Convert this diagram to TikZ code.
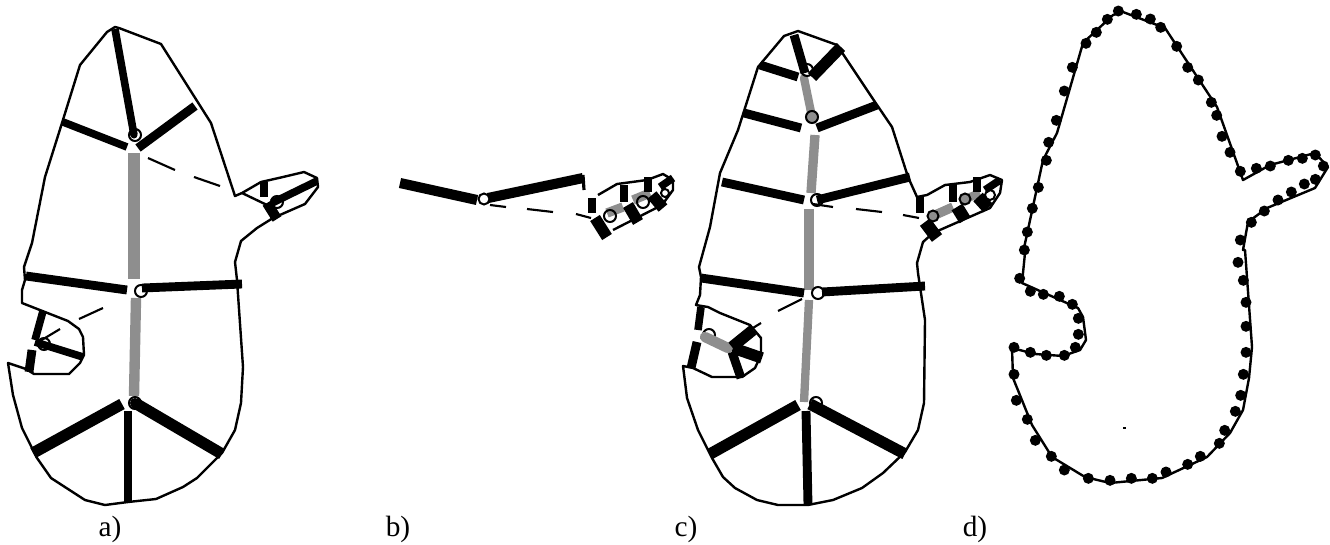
\documentclass[tikz,border=0pt]{standalone}
\usepackage{fontspec}
\setmainfont{Liberation Serif}
\definecolor{dith}{HTML}{8E8E8E}
\tikzset{
 outl/.style={line width=1.8pt,line join=round,black},
 bar/.style={line width=#1*0.95pt,black},
 gbar/.style={line width=#1*0.78pt,dith},
 gbarr/.style={line width=#1*0.78pt,dith,line cap=round},
 dsh/.style={line width=1.6pt,black},
 ring/.style={line width=1.5pt,black},
 gring/.style={line width=1.5pt,black,fill=dith},
 wring/.style={line width=1.5pt,black,fill=white},
 dot/.style={fill=black},
 lab/.style={anchor=base,font=\fontsize{22}{24}\selectfont,inner sep=0pt}
}
\begin{document}
\begin{tikzpicture}[x=0.75pt,y=-0.75pt]
\useasboundingbox (0,0) rectangle (1330,544);
% ---------- panel a
\draw[outl] (115,27)--(119,28)--(161,44)--(211,123)--(235,196)--(242,193)--(261,182)--(283,177)--(304,172)--(317,178)--(318,187)--(305,204)--(273,218)--(257,228)--(241,241)--(235,262)--(237,280)--(243,367)--(241,403)--(235,430)--(222,453)--(197,478)--(183,487)--(156,499)--(128,502)--(105,505)--(85,500)--(51,478)--(37,458)--(22,428)--(13,395)--(8,363)--(26,369)--(34,374)--(69,374)--(80,363)--(84,355)--(83,337)--(79,329)--(68,321)--(45,312)--(22,303)--(22,290)--(25,280)--(24,267)--(32,243)--(45,177)--(62,123)--(80,65)--(107,32)--cycle;
\draw[outl] (242,193)--(267,205);
\draw[gbar=12] (134,153)--(134,279);
\draw[gbar=10] (136,298)--(134,396);
\draw[bar=6] (115,29)--(134,135);
\fill[black] (134,135) circle (3.5);
\draw[bar=6] (63,122)--(127,147);
\draw[bar=7] (195,106)--(138,148);
\draw[bar=7] (26,276)--(127,290);
\draw[bar=7] (142,288)--(242,284);
\draw[bar=9] (122,404)--(33,453);
\draw[bar=7] (128,411)--(128,502);
\draw[bar=9] (135,403)--(222,454);
\fill[black] (135,403) circle (5);
\draw[bar=6] (317,181)--(272,203);
\draw[bar=8] (267,203)--(277,219);
\draw[bar=7] (264,182)--(264,197);
\draw[bar=6] (43,311)--(35,340);
\draw[bar=6] (35,342)--(83,357);
\draw[bar=7] (32,350)--(29,372);
\draw[dsh] (148,158)--(175,170) (194,177)--(220,186) (103,308)--(79,319) (60,329)--(40,341);
\draw[ring] (135,135) circle (6) (141,291) circle (6) (135,403) circle (6) (277,202) circle (6) (44,344) circle (6);
% ---------- panel b
\draw[bar=8] (400,183)--(477,200);
\draw[bar=8] (488,198)--(583,178);
\draw[bar=2.5] (583,175)--(584,190);
\draw[dsh] (490,205)--(506,207) (527,209)--(553,212) (576,214)--(591,218);
\draw[wring] (484,199) circle (5.5);
\draw[outl] (598,195)--(617,184)--(647,180)--(663,174)--(673,180)--(673,190)--(662,205)--(613,230);
\draw[gbar=9] (607,213)--(623,207);
\draw[gbar=9] (633,200)--(650,193);
\draw[bar=7] (592,198)--(592,213);
\draw[bar=9] (595,218)--(607,237);
\draw[bar=9] (628,205)--(638,222);
\draw[bar=9] (652,195)--(663,208);
\draw[bar=7] (624,185)--(624,202);
\draw[bar=7] (648,177)--(648,192);
\draw[bar=6] (660,187)--(673,178);
\draw[ring] (610,216) circle (6) (643,202) circle (6);
\draw[wring] (665,193) circle (4);
% ---------- panel c
\draw[outl] (798,31)--(837,45)--(875,102)--(892,127)--(908,177)--(917,197)--(927,195)--(945,185)--(970,182)--(990,175)--(1002,180)--(1000,193)--(990,208)--(933,233)--(923,242)--(917,263)--(918,273)--(925,320)--(924,403)--(918,430)--(905,452)--(883,473)--(862,488)--(833,500)--(808,505)--(778,505)--(757,500)--(735,488)--(723,477)--(712,458)--(698,430)--(687,398)--(683,366)--(693,368)--(712,377)--(742,377)--(755,368)--(761,355)--(761,338)--(750,325)--(720,313)--(708,307)--(696,305)--(700,295)--(701,277)--(699,267)--(710,227)--(720,173)--(738,130)--(758,67)--(784,36)--cycle;
\draw[gbarr=8] (804,78)--(812,117);
\draw[gbar=9] (815,135)--(811,193);
\draw[gbar=9] (809,209)--(809,290);
\draw[gbar=8] (809,300)--(804,402);
\draw[bar=7] (794,35)--(805,73);
\draw[bar=9] (841,47)--(812,77);
\draw[bar=7] (760,65)--(798,77);
\draw[bar=7] (744,113)--(801,128);
\draw[bar=7] (877,105)--(817,128);
\draw[bar=7] (722,182)--(804,200);
\draw[bar=7] (910,177)--(817,200);
\draw[bar=7] (701,278)--(804,293);
\draw[bar=7] (822,292)--(925,286);
\draw[bar=9] (798,405)--(710,454);
\draw[bar=7] (806,411)--(808,505);
\draw[bar=9] (810,404)--(905,454);
\draw[dsh] (813,204)--(833,207) (856,209)--(882,212) (903,215)--(919,218) (802,299)--(778,311) (761,323)--(748,331);
\draw[gring] (812,117) circle (6);
\draw[ring] (807,70) circle (6) (817,200) circle (6) (818,293) circle (6) (816,403) circle (6) (990,195) circle (5) (709,335) circle (6);
\draw[gbar=9] (935,215)--(953,207);
\draw[gbar=8] (963,200)--(980,193);
\draw[bar=7] (920,197)--(920,213);
\draw[bar=10] (925,222)--(937,238);
\draw[bar=10] (957,207)--(965,220);
\draw[bar=10] (978,197)--(988,208);
\draw[bar=7] (953,184)--(953,202);
\draw[bar=7] (977,177)--(977,192);
\draw[bar=6] (985,190)--(1000,180);
\draw[gring] (933,216) circle (5.5) (965,199) circle (5.5);
\draw[gbarr=10] (705,337)--(728,348);
\draw[bar=6] (701,307)--(698,330);
\draw[bar=7] (697,342)--(691,368);
\draw[bar=9] (732,347)--(753,330);
\draw[bar=9] (733,348)--(762,358);
\draw[bar=7] (732,352)--(741,378);
% ---------- panel d
\draw[outl] (1123,12)--(1165,28)--(1217,107)--(1243,180)--(1270,165)--(1315,153)--(1328,167)--(1315,188)--(1267,208)--(1248,222)--(1243,250)--(1245,250)--(1252,347)--(1249,378)--(1243,410)--(1230,433)--(1207,457)--(1162,478)--(1110,483)--(1085,477)--(1052,457)--(1032,425)--(1013,378)--(1012,348)--(1035,354)--(1063,356)--(1080,350)--(1086,340)--(1083,317)--(1078,308)--(1022,283)--(1025,253)--(1024,248)--(1043,160)--(1057,133)--(1083,43)--(1113,15)--cycle;
\foreach \x/\y in {355/33,409/43,451/57,482/82,530/139,563/202,595/240,634/307,650/346,666/409,690/457,721/514,769/505,811/498,865/481,907/475,946/465,970/498,946/538,913/552,874/576,834/600,793/633,754/667,721/720,322/58,289/97,258/130,217/202,193/273,169/361,146/427,139/481,115/562,97/625,82/696,73/750}
  \fill[dot] ({1000+\x/3},{\y/3}) circle (5.5);
\foreach \x/\y in {59/85,91/124,130/133,178/139,217/163,235/205,235/253,226/292,193/316,139/316,91/307,42/292,42/373,49/451,82/508,106/571,154/619,193/660,265/685,330/691,394/685,457/685,498/666,563/643,601/619,658/580,674/541,706/484,722/436,730/373,738/307,738/229,738/157,730/91,714/37}
  \fill[dot] ({1000+\x/3},{250+\y/3}) circle (5.5);
\fill[dot] (1122.5,427) rectangle (1125.5,429);
% ---------- labels
\node[lab] (la) at (110,536) {a)};
\node[lab] (lb) at (398,536) {b)};
\node[lab] (lc) at (686,536) {c)};
\node[lab] (ld) at (975,536) {d)};
\end{tikzpicture}
\end{document}
